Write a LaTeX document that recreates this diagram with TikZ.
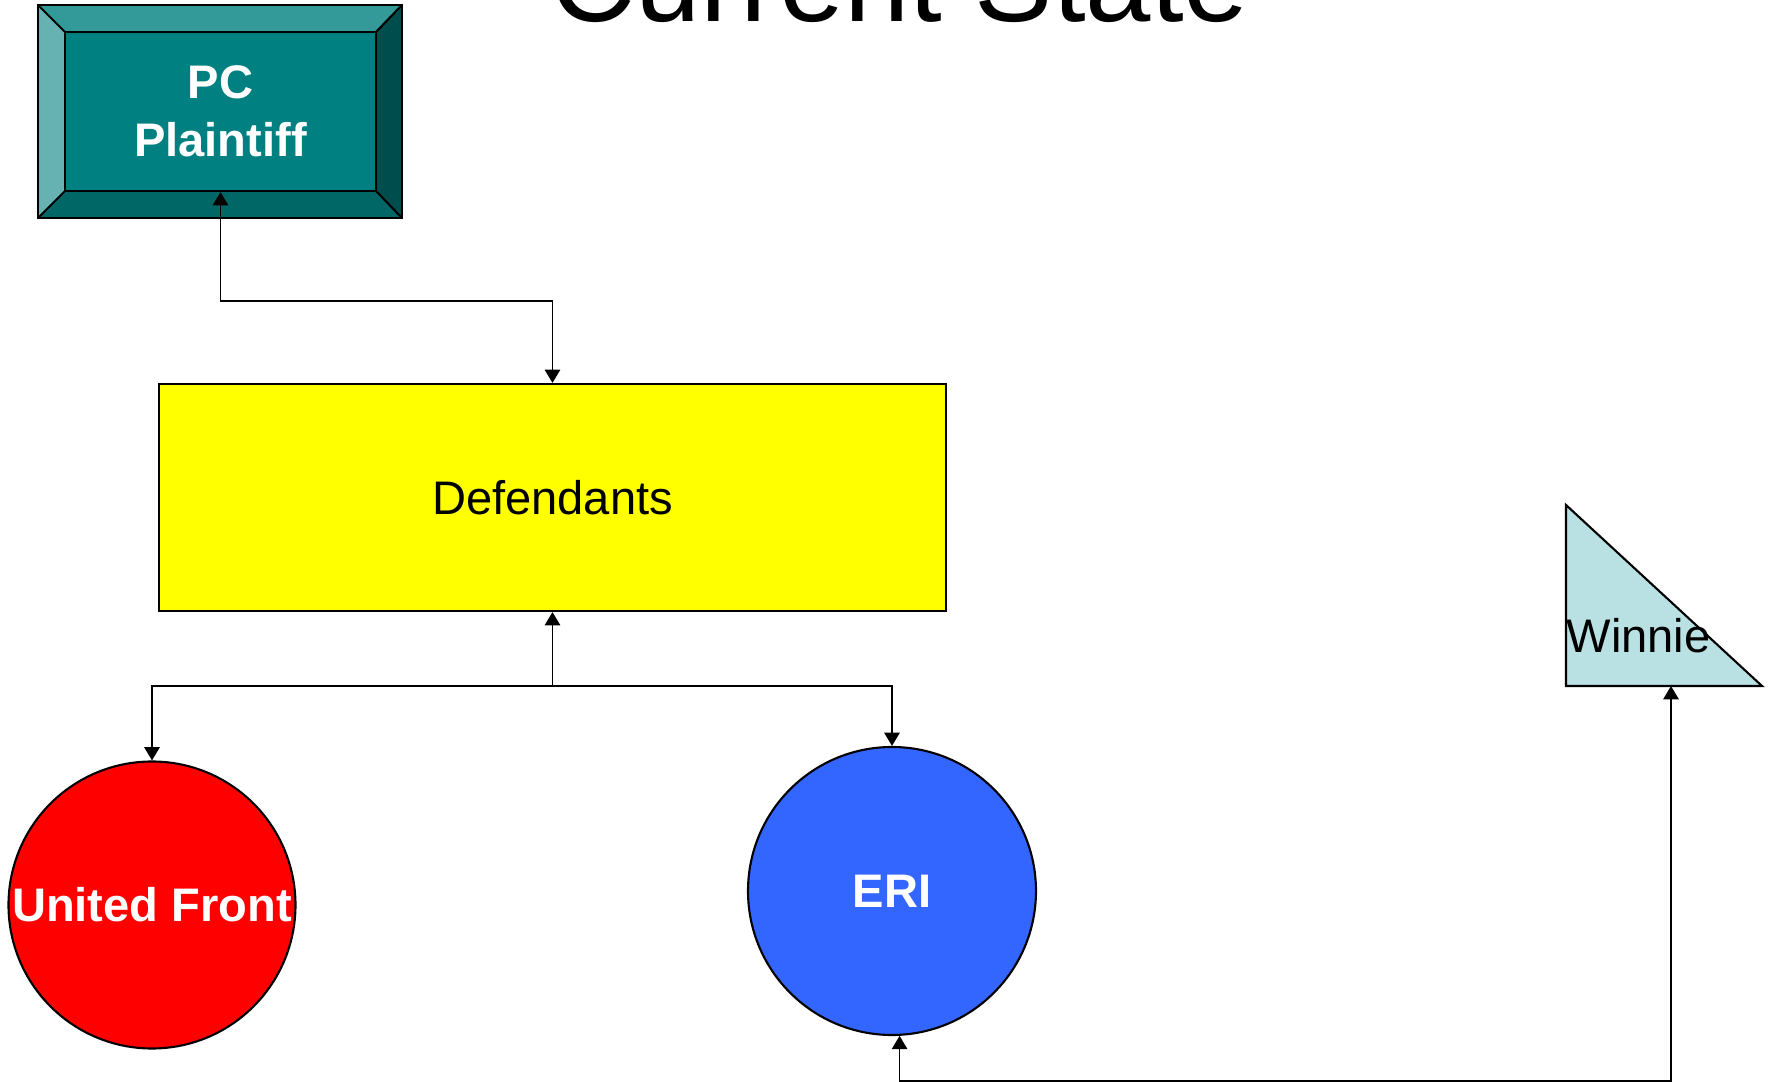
\documentclass[tikz,border=0pt]{standalone}
\usepackage{fontspec}
\setmainfont{Liberation Sans}
\usepackage{tikz}
\usetikzlibrary{arrows.meta,positioning,shapes}
\definecolor{teal1}{RGB}{0,128,128}
\definecolor{tealtop}{RGB}{51,153,153}
\definecolor{tealleft}{RGB}{102,178,178}
\definecolor{tealright}{RGB}{0,77,77}
\definecolor{tealbot}{RGB}{0,102,102}
\definecolor{defyellow}{RGB}{255,255,0}
\definecolor{ufred}{RGB}{255,0,0}
\definecolor{eriblue}{RGB}{51,102,255}
\definecolor{winniefill}{RGB}{185,224,226}

\begin{document}
\begin{tikzpicture}[x=0.1mm, y=0.1mm,
  lbl/.style={font=\fontsize{13.4}{16}\selectfont},
  lblbold/.style={font=\fontsize{13.4}{16}\selectfont\bfseries, text=white},
  link/.style={draw=black, line width=0.5pt},
  tip/.style={-{Triangle[width=4.4pt,length=3.8pt]}},
  twotip/.style={{Triangle[width=4.4pt,length=3.8pt]}-{Triangle[width=4.4pt,length=3.8pt]}}]
  \useasboundingbox (0,0) rectangle (1770,-1082);
  \clip (0,0) rectangle (1770,-1082);
  % title
  \node [font=\fontsize{33.4}{40}\selectfont, anchor=base] (title) at (900,-22) {Current State};
  % plaintiff (bevelled box)
  \coordinate (po1) at (38,-5);
  \coordinate (po2) at (402,-5);
  \coordinate (po3) at (402,-218);
  \coordinate (po4) at (38,-218);
  \coordinate (pi1) at (65,-32);
  \coordinate (pi2) at (376,-32);
  \coordinate (pi3) at (376,-191);
  \coordinate (pi4) at (65,-191);
  \fill [tealtop] (po1) -- (po2) -- (pi2) -- (pi1) -- cycle;
  \fill [tealright] (po2) -- (po3) -- (pi3) -- (pi2) -- cycle;
  \fill [tealbot] (po3) -- (po4) -- (pi4) -- (pi3) -- cycle;
  \fill [tealleft] (po4) -- (po1) -- (pi1) -- (pi4) -- cycle;
  \draw [line width=0.6pt] (po1) rectangle (po3);
  \draw [line width=0.6pt] (po1) -- (pi1) (po2) -- (pi2) (po3) -- (pi3) (po4) -- (pi4);
  \node [lblbold, draw=black, line width=0.6pt, fill=teal1, minimum width=3.11cm, minimum height=1.59cm,
         align=center, inner sep=0pt] (pc) at (220.5,-111.5) {PC\\[0.6pt]Plaintiff};
  % defendants
  \node [lbl, draw=black, line width=0.6pt, fill=defyellow, minimum width=7.87cm, minimum height=2.27cm,
         inner sep=0pt] (def) at (552.5,-497.5) {Defendants};
  % united front and eri
  \node [lblbold, circle, draw=black, line width=0.6pt, fill=ufred, minimum size=2.87cm,
         inner sep=0pt] (uf) at (152,-905) {United Front};
  \node [lblbold, circle, draw=black, line width=0.6pt, fill=eriblue, minimum size=2.88cm,
         inner sep=0pt] (eri) at (892,-891) {ERI};
  % winnie
  \coordinate (w1) at (1566,-505);
  \coordinate (w2) at (1566,-686);
  \coordinate (w3) at (1762,-686);
  \coordinate (wbase) at (1671,-686);
  \filldraw [fill=winniefill, draw=black, line width=0.6pt] (w1) -- (w2) -- (w3) -- cycle;
  \node [lbl, anchor=base west, inner sep=0pt] (winnie) at (1566,-653) {Winnie};
  % connectors
  \draw [link, twotip] (pc.south) -- ++(0,-109) -| (def.north);
  \draw [link, tip] (def.south) ++(0,-74) coordinate (split) -- (def.south);
  \draw [link, tip] (split) -| (uf.north);
  \draw [link, tip] (split) -| (eri.north);
  \draw [link, twotip] (eri.-87) -- ++(0,-45) -| (wbase);
\end{tikzpicture}
\end{document}
